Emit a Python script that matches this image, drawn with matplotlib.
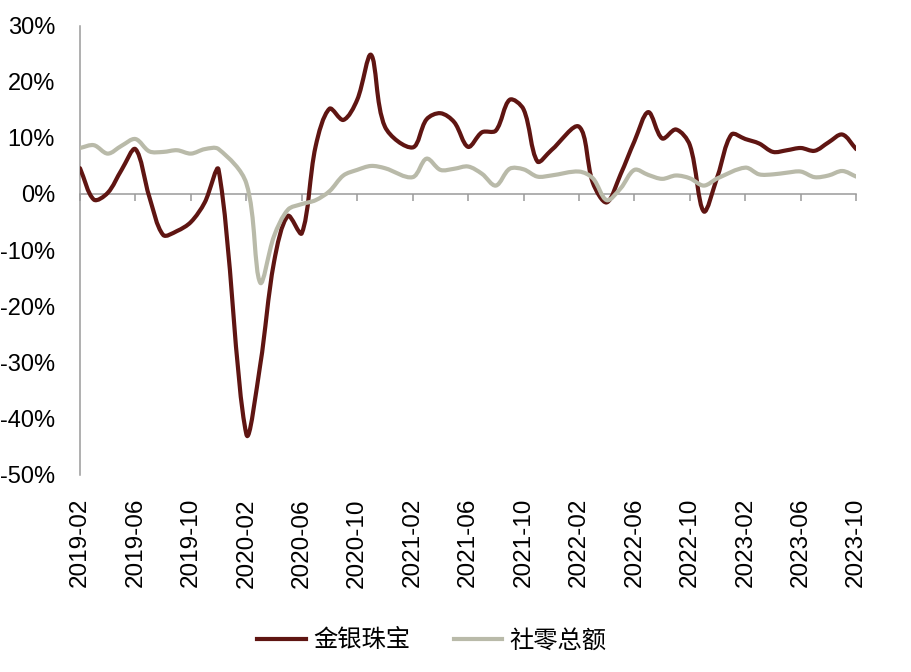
import numpy as np
import matplotlib.pyplot as plt
from matplotlib.path import Path
from matplotlib.patches import PathPatch
from matplotlib.lines import Line2D
from matplotlib.font_manager import FontProperties

# 月份（含1月，1月多为空值）
months = [
    '2019-02', '2019-03', '2019-04', '2019-05', '2019-06', '2019-07', '2019-08', '2019-09', '2019-10', '2019-11', '2019-12',
    '2020-01', '2020-02', '2020-03', '2020-04', '2020-05', '2020-06', '2020-07', '2020-08', '2020-09', '2020-10', '2020-11', '2020-12',
    '2021-01', '2021-02', '2021-03', '2021-04', '2021-05', '2021-06', '2021-07', '2021-08', '2021-09', '2021-10', '2021-11', '2021-12',
    '2022-01', '2022-02', '2022-03', '2022-04', '2022-05', '2022-06', '2022-07', '2022-08', '2022-09', '2022-10', '2022-11', '2022-12',
    '2023-01', '2023-02', '2023-03', '2023-04', '2023-05', '2023-06', '2023-07', '2023-08', '2023-09', '2023-10',
]

# 金银珠宝 同比 (%)
jewelry = [
    4.6, -1.0, 0.2, 4.3, 8.0, -0.5, -7.3, -6.6, -5.0, -1.5, 4.3,
    None, -42.8, -30.5, -12.1, -3.9, -7.0, 8.5, 15.2, 13.2, 16.8, 24.8, 12.0,
    None, 8.3, 13.3, 14.4, 12.8, 8.4, 11.0, 11.3, 16.8, 15.1, 5.8, 7.8,
    None, 12.0, 2.0, -1.5, 3.5, 9.4, 14.6, 9.9, 11.5, 8.7, -3.1, 3.2,
    10.6, 9.8, 9.0, 7.5, 7.8, 8.2, 7.7, 9.2, 10.6, 8.0,
]

# 社零总额 同比 (%)
retail = [
    8.2, 8.7, 7.2, 8.6, 9.8, 7.6, 7.5, 7.8, 7.2, 8.0, 8.0,
    None, 1.9, -15.8, -7.5, -2.8, -1.8, -1.1, 0.5, 3.3, 4.3, 5.0, 4.6,
    None, 3.0, 6.3, 4.3, 4.5, 4.9, 3.6, 1.5, 4.5, 4.4, 3.1, 3.3,
    None, 4.0, 2.8, -1.1, 1.0, 4.3, 3.4, 2.7, 3.3, 2.8, 1.5, 2.8,
    None, 4.7, 3.5, 3.5, 3.8, 4.0, 3.0, 3.3, 4.1, 3.1,
]

tick_labels = ['2019-02', '2019-06', '2019-10', '2020-02', '2020-06', '2020-10', '2021-02',
               '2021-06', '2021-10', '2022-02', '2022-06', '2022-10', '2023-02', '2023-06', '2023-10']

names = ['金银珠宝', '社零总额']
colors = ['#5f1512', '#b9baa9']


def month_pos(m):
    y, mo = m.split('-')
    return (int(y) - 2019) * 12 + int(mo) - 2


def smooth_path(ax, xs, ys, t=1.0 / 3):
    # 平滑曲线（类Excel），在像素空间按相邻段长分配切线长度
    P = ax.transData.transform(np.column_stack([xs, ys]).astype(float))
    n = len(P)
    cin = np.zeros_like(P)
    cout = np.zeros_like(P)
    for i in range(n):
        a = P[i - 1] if i > 0 else P[i]
        b = P[i + 1] if i < n - 1 else P[i]
        T = b - a
        d1 = np.hypot(*(P[i] - a))
        d2 = np.hypot(*(b - P[i]))
        s = d1 + d2 if d1 + d2 > 0 else 1.0
        cin[i] = P[i] - T * t * d1 / s
        cout[i] = P[i] + T * t * d2 / s
    verts = [P[0]]
    codes = [Path.MOVETO]
    for i in range(n - 1):
        verts += [cout[i], cin[i + 1], P[i + 1]]
        codes += [Path.CURVE4] * 3
    verts = ax.transData.inverted().transform(np.array(verts))
    return Path(verts, codes)


plt.rcParams['font.family'] = ['Liberation Sans', 'Noto Sans CJK SC']
plt.rcParams['axes.unicode_minus'] = False

W, H = 911, 672
fig = plt.figure(figsize=(W / 100, H / 100), dpi=100, facecolor='w')
ax = fig.add_axes([80 / W, 1 - 474.5 / H, (856.2 - 80) / W, (474.5 - 25.7) / H])
ax.set_xlim(0, 56)
ax.set_ylim(-50, 30)

for k, series in enumerate([jewelry, retail]):
    xs = [month_pos(m) for m, v in zip(months, series) if v is not None]
    ys = [v for v in series if v is not None]
    patch = PathPatch(smooth_path(ax, xs, ys), facecolor='none', edgecolor=colors[k],
                      lw=3.0, capstyle='round', joinstyle='round', zorder=3 + k)
    ax.add_patch(patch)

# 坐标轴
for s in ['top', 'right']:
    ax.spines[s].set_visible(False)
ax.spines['bottom'].set_position(('data', 0))
ax.spines['bottom'].set_color('#9a9a9a')
ax.spines['left'].set_color('#9a9a9a')
ax.spines['bottom'].set_linewidth(1.1)
ax.spines['left'].set_linewidth(1.1)

yt = np.arange(-50, 31, 10)
ax.set_yticks(yt)
ax.set_yticklabels(['%d%%' % v for v in yt], fontsize=17)
ax.tick_params(axis='y', length=0, pad=18)

xt = [month_pos(m) for m in tick_labels]
ax.set_xticks(xt)
ax.tick_params(axis='x', direction='out', length=5, width=1.1, color='#9a9a9a', labelbottom=False)

sec = ax.secondary_xaxis('bottom')
sec.set_xticks(xt)
sec.set_xticklabels(tick_labels, rotation=90, fontsize=17.5)
sec.tick_params(length=0, pad=17)
sec.spines['bottom'].set_visible(False)

handles = [Line2D([], [], color=c, lw=3.0) for c in colors]
fig.legend(handles, names, loc='center', bbox_to_anchor=(0.474, 0.047), ncol=2, frameon=False,
           prop=FontProperties(family='Noto Sans CJK SC', size=17.5),
           handlelength=2.0, handletextpad=0.3, columnspacing=1.8)

plt.savefig('out.png', dpi=100, facecolor='w')
